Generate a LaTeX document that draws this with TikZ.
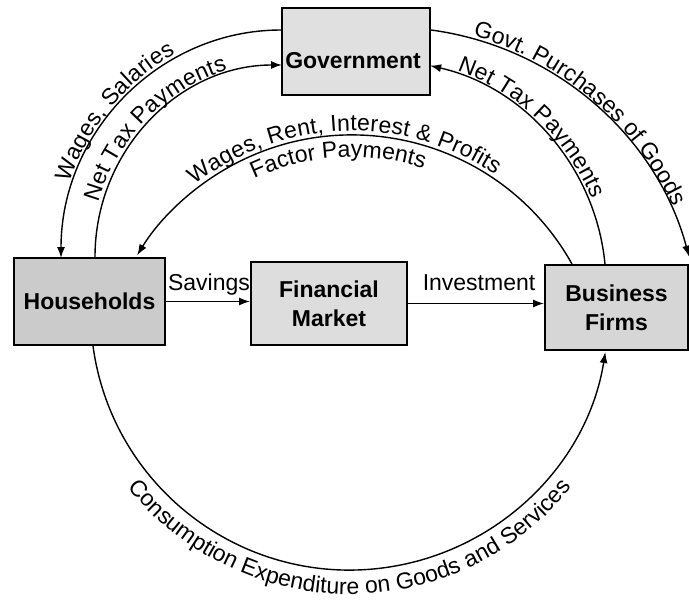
\documentclass[tikz,border=0pt]{standalone}
\usepackage{fontspec}
\setmainfont{Liberation Sans}
\usetikzlibrary{arrows.meta,decorations.text,calc}
\newcommand\lblfont{\fontsize{23}{26}\selectfont}
\newcommand\boxfont{\fontsize{23}{29}\selectfont\bfseries}
\definecolor{boxgov}{HTML}{E0E0E0}
\definecolor{boxhh}{HTML}{CBCBCB}
\definecolor{boxfm}{HTML}{DDDDDD}
\definecolor{boxbf}{HTML}{D6D6D6}
\begin{document}
\begin{tikzpicture}[x=1pt,y=1pt,
  box/.style={draw=black,line width=2pt,fill=#1,inner sep=0pt,align=center,font=\boxfont},
  flow/.style={line width=1.4pt,-{Latex[length=11pt,width=8pt]}},
  lbl/.style={font=\lblfont,inner sep=0pt},
]
\useasboundingbox (0,0) rectangle (689,-602);

% boxes
\node[box=boxgov,minimum width=148pt,minimum height=87pt] (gov) at (356,-51.5) {};
\node[font=\boxfont,inner sep=0pt] (govt) at (353,-61) {Government};
\node[box=boxhh,minimum width=151pt,minimum height=87pt] (hh) at (89.5,-301.5) {Households};
\node[box=boxfm,minimum width=156pt,minimum height=83pt] (fm) at (329,-303.5) {Financial\\Market};
\node[box=boxbf,minimum width=143pt,minimum height=85pt] (bf) at (616.5,-307.5) {Business\\Firms};

% straight flows
\draw[flow] (hh.east) -- (hh.east -| fm.west);
\node[lbl,anchor=base] (sav) at (209,-290) {Savings};
\draw[flow] (fm.east) -- (fm.east -| bf.west);
\node[lbl,anchor=base] (inv) at (479,-290) {Investment};

% curved flows
\draw[flow] ([yshift=21.5pt]gov.west) arc[start angle=90,end angle=180,x radius=220pt,y radius=228pt];
\draw[flow] ([xshift=5.5pt]hh.north) arc[start angle=180,end angle=90,x radius=187pt,y radius=192pt];
\draw[flow] ([yshift=21.5pt]gov.east) arc[start angle=82.4,end angle=15,radius=309.5pt];
\draw[flow] ([xshift=-11.5pt]bf.north) arc[start angle=5.6,end angle=77.2,radius=226pt];
\draw[flow] ([xshift=-44.5pt]bf.north) arc[start angle=29.2,end angle=148.5,radius=252pt];
\draw[flow] ([xshift=3.5pt]hh.south) arc[start angle=187.75,end angle=350.9,radius=259pt];

% centres of the label arcs
\coordinate (cws) at (282,-258);
\coordinate (cgp) at (389,-337);
\coordinate (cnt) at (380,-287);
\coordinate (cfp) at (352,-388);
\coordinate (cce) at (349.6,-310.1);

% curved labels
\path[decorate,decoration={text along path,text={|\lblfont|Wages, Salaries},text align=center,raise=4pt}]
  ($(cws)+(175:220pt and 228pt)$) arc[start angle=175,end angle=104,x radius=220pt,y radius=228pt];
\path[decorate,decoration={text along path,text={|\lblfont|Net Tax Payments},text align=center,raise=4pt}]
  ($(cws)+(175:187pt and 192pt)$) arc[start angle=175,end angle=95,x radius=187pt,y radius=192pt];
\path[decorate,decoration={text along path,text={|\lblfont|Wages, Rent, Interest {\&} Profits},text align=center,raise=5pt}]
  ($(cfp)+(140:252pt)$) arc[start angle=140,end angle=44,radius=252pt];
\path[decorate,decoration={text along path,text={|\lblfont|Factor Payments},text align=center}]
  ($(cfp)+(125:231pt)$) arc[start angle=125,end angle=62,radius=231pt];
\path[decorate,decoration={text along path,text={|\lblfont|Govt. Purchases of Goods},text align=center,raise=3pt}]
  ($(cgp)+(85:309.5pt)$) arc[start angle=85,end angle=14,radius=309.5pt];
\path[decorate,decoration={text along path,text={|\lblfont|Net Tax Payments},text align=center,raise=4pt}]
  ($(cnt)+(80:226pt)$) arc[start angle=80,end angle=13,radius=226pt];
\path[decorate,decoration={text along path,text={|\lblfont|Consumption Expenditure on Goods and Services},text align=center}]
  ($(cce)+(200:284pt)$) arc[start angle=200,end angle=340,radius=284pt];
\end{tikzpicture}
\end{document}
